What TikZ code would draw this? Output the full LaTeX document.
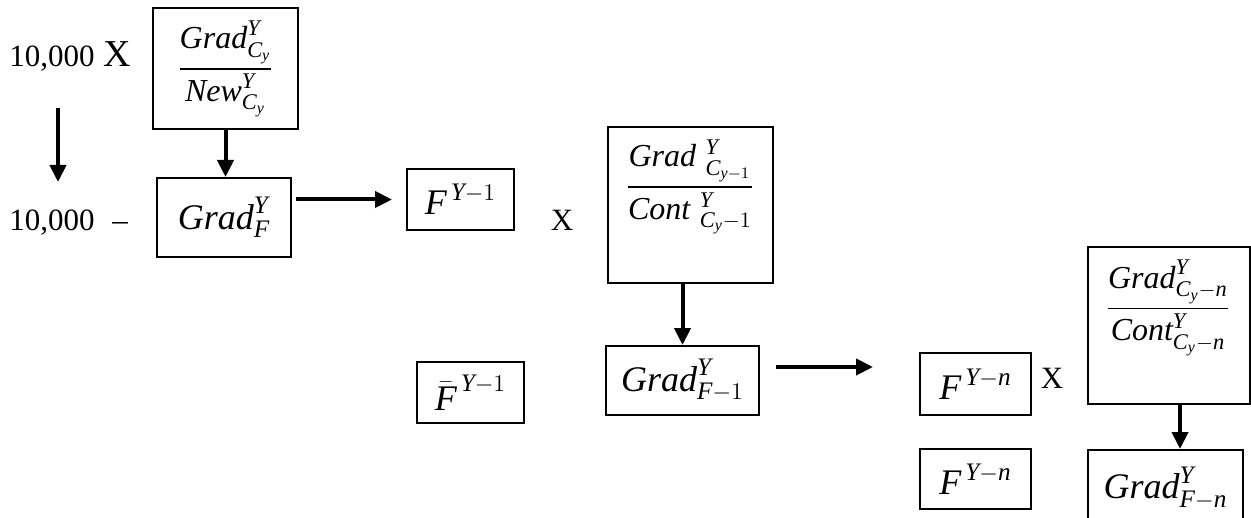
\documentclass[tikz,border=0pt]{standalone}
\usepackage{amsmath}
\usepackage{fontspec}
\setmainfont{Liberation Serif}
\usetikzlibrary{arrows.meta}
\newcommand{\itx}[1]{\textit{#1}}

\begin{document}
\begin{tikzpicture}[x=0.5pt, y=-0.5pt,
    box/.style={draw, line width=1pt, inner sep=0pt, font=\fontsize{18}{21}\selectfont},
    frac/.style={inner sep=0pt, font=\fontsize{16}{19}\selectfont},
    word/.style={inner sep=0pt, anchor=base, font=\fontsize{15.5}{18}\selectfont},
    arr/.style={line width=2pt, -{Triangle[length=8.5pt, width=8pt]}}]
  \useasboundingbox (0,0) rectangle (1251,518);

  \node[word, anchor=base west] (tenA) at (9,67) {10,000};
  \node[word, anchor=base west, font=\fontsize{19}{22}\selectfont] (timesA) at (103,67) {X};
  \node[word, anchor=base west] (tenB) at (9,230) {10,000};
  \node[word, anchor=base west] (minusB) at (112,230) {--};
  \node[word] (timesB) at (562,230) {X};
  \node[word] (timesC) at (1052,388) {X};

  \node[box, frac, draw, minimum width=72.5pt, minimum height=60.5pt] (boxNew) at (225.5,68.5)
    {$\dfrac{\itx{Grad}^{\itx{Y}}_{\itx{C}_{\itx{y}}}}{\itx{New}^{\itx{Y}}_{\itx{C}_{\itx{y}}}}$};
  \node[box, minimum width=67pt, minimum height=39.5pt] (boxGF) at (224,217.5)
    {$\itx{Grad}^{\itx{Y}}_{\itx{F}}$};
  \node[box, minimum width=53.5pt, minimum height=30.5pt] (boxF1) at (460.5,199.5)
    {$\itx{F}^{\,\itx{Y}-1}$};

  \node[box, minimum width=82.5pt, minimum height=78pt] (boxCont1) at (690.5,205) {};
  \node[frac] (fracCont1) at (690,187)
    {$\dfrac{\itx{Grad}\;{}^{\itx{Y}}_{\itx{C}_{\itx{y}-1}}}{\itx{Cont}\;{}^{\itx{Y}}_{\itx{C}_{\itx{y}}-1}}$};
  \node[box, minimum width=76.5pt, minimum height=34.5pt] (boxGF1) at (682.5,380.5)
    {$\itx{Grad}^{\itx{Y}}_{\itx{F}-1}$};
  \node[box, minimum width=53.5pt, minimum height=30.5pt] (boxFbar) at (470.5,392.5)
    {$\bar{\itx{F}}^{\,\itx{Y}-1}$};

  \node[box, minimum width=55.5pt, minimum height=31pt] (boxFn) at (975.5,384)
    {$\itx{F}^{\,\itx{Y}-\itx{n}}$};
  \node[box, minimum width=55.5pt, minimum height=30pt] (boxFn2) at (975.5,479)
    {$\itx{F}^{\,\itx{Y}-\itx{n}}$};
  \node[box, minimum width=81pt, minimum height=78.5pt] (boxContn) at (1169,325.5) {};
  \node[frac] (fracContn) at (1168,308)
    {$\dfrac{\itx{Grad}^{\itx{Y}}_{\itx{C}_{\itx{y}}-\itx{n}}}{\itx{Cont}^{\itx{Y}}_{\itx{C}_{\itx{y}}-\itx{n}}}$};
  \node[box, minimum width=77.5pt, minimum height=38pt] (boxGFn) at (1165.5,488)
    {$\itx{Grad}^{\itx{Y}}_{\itx{F}-\itx{n}}$};

  \coordinate (dnTop) at (58,108);
  \coordinate (dnBot) at (58,182);
  \coordinate (gapEnd) at (873,367);

  \draw[arr] (dnTop) -- (dnBot);
  \draw[arr] (boxNew.south) -- (boxNew.south |- boxGF.north);
  \draw[arr, shorten <=2pt, shorten >=7pt] (boxGF.east |- boxF1) -- (boxF1.west);
  \draw[arr] (boxGF1.north |- boxCont1.south) -- (boxGF1.north);
  \draw[arr, shorten <=8pt] (boxGF1.east |- gapEnd) -- (gapEnd);
  \draw[arr] ([xshift=7.25pt]boxGFn.north |- boxContn.south) -- ([xshift=7.25pt]boxGFn.north);
\end{tikzpicture}
\end{document}
